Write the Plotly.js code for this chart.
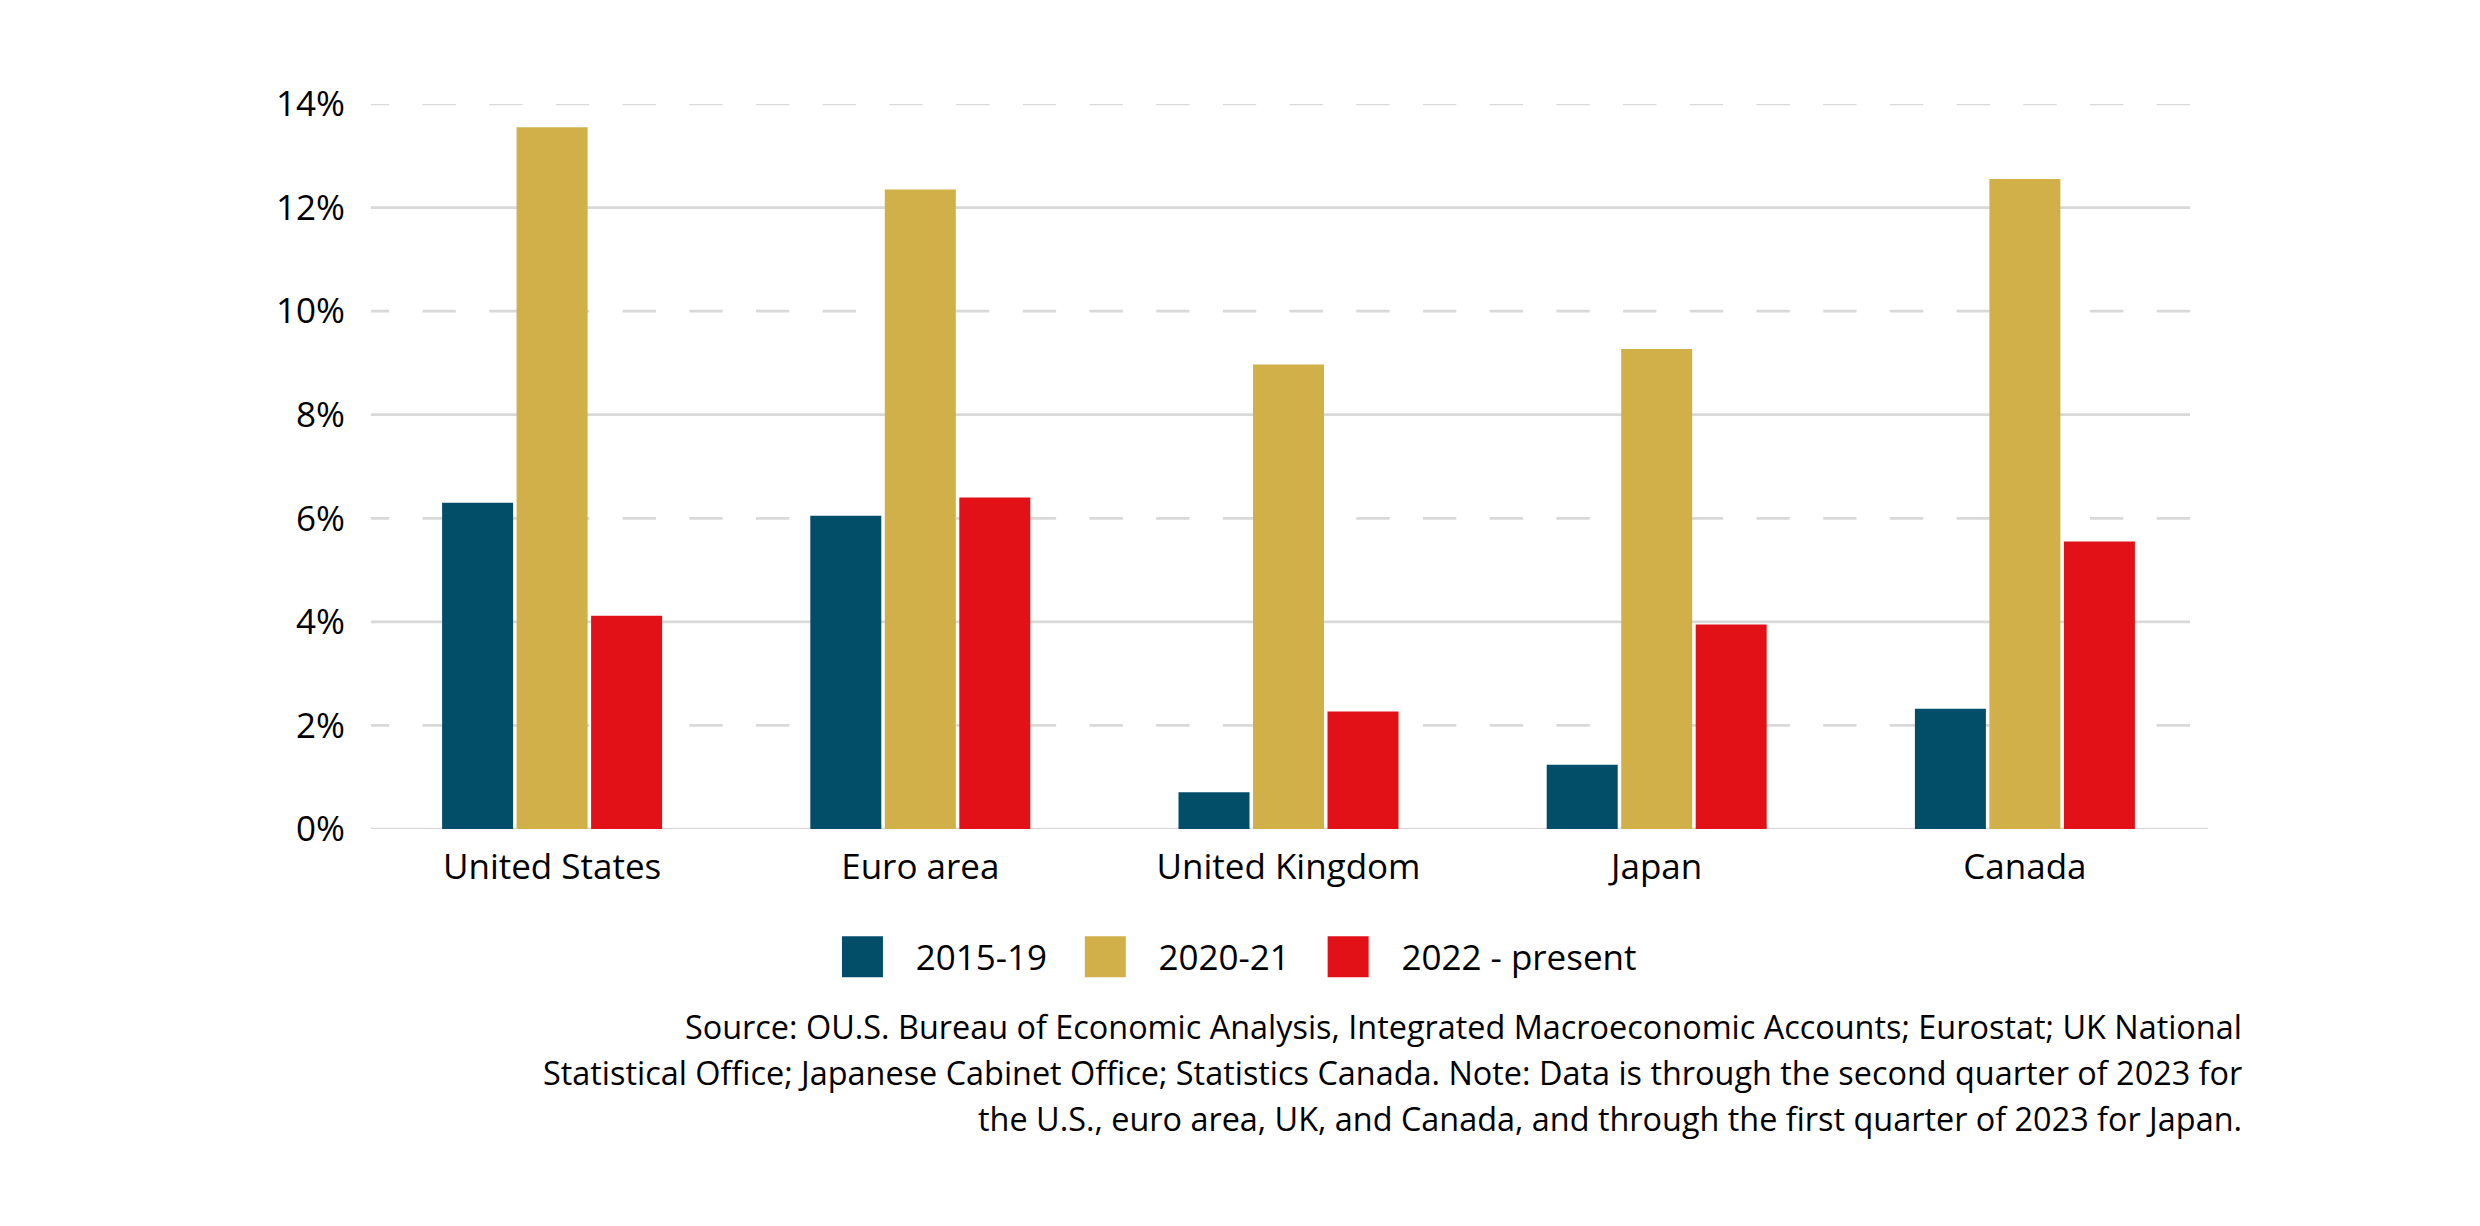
<!DOCTYPE html>
<html>
<head>
<meta charset="utf-8">
<script src="https://cdn.plot.ly/plotly-3.0.1.min.js"></script>
<style>
  html, body { margin: 0; padding: 0; background: #ffffff; }
  #chart { width: 2480px; height: 1226px; }
</style>
</head>
<body>
<div id="chart"></div>
<script>
// ---- data ----
var categories = ["United States", "Euro area", "United Kingdom", "Japan", "Canada"];
var seriesNames = ["2015-19", "2020-21", "2022 - present"];
var values2015_19 = [6.3, 6.05, 0.71, 1.24, 2.32];
var values2020_21 = [13.55, 12.35, 8.97, 9.27, 12.55];
var values2022_present = [4.12, 6.4, 2.27, 3.95, 5.55];
var yTickVals = [0, 2, 4, 6, 8, 10, 12, 14];
var yTickText = ["0%", "2%", "4%", "6%", "8%", "10%", "12%", "14%"];
var solidGridVals = [4, 8, 12];
var dashedGridVals = [2, 6, 10, 14];
var sourceLines = [
  "Source: OU.S. Bureau of Economic Analysis, Integrated Macroeconomic Accounts; Eurostat; UK National",
  "Statistical Office; Japanese Cabinet Office; Statistics Canada. Note: Data is through the second quarter of 2023 for",
  "the U.S., euro area, UK, and Canada, and through the first quarter of 2023 for Japan."
];

// ---- styles ----
var colors = ["#024E69", "#D1B04A", "#E21017"];
var FONT = "'Open Sans', 'Noto Sans', sans-serif";
var GRID = "#d9d9d9";

var seriesValues = [values2015_19, values2020_21, values2022_present];
var traces = seriesNames.map(function (name, i) {
  return {
    type: "bar",
    name: name,
    x: categories,
    y: seriesValues[i],
    marker: { color: colors[i] },
    hoverinfo: "x+y+name"
  };
});

var shapes = [];
// baseline (0%)
shapes.push({
  type: "line", layer: "below", xref: "paper", yref: "y",
  x0: 0.0016, x1: 0.9995, y0: 0, y1: 0,
  line: { color: GRID, width: 2.7 }
});
solidGridVals.forEach(function (v) {
  shapes.push({
    type: "line", layer: "below", xref: "paper", yref: "y",
    x0: 0.0016, x1: 0.9897, y0: v, y1: v,
    line: { color: GRID, width: 2.7 }
  });
});
dashedGridVals.forEach(function (v) {
  shapes.push({
    type: "line", layer: "below", xref: "paper", yref: "y",
    x0: 0.9897, x1: 0.0016, y0: v, y1: v,
    line: { color: GRID, width: 2.7, dash: "33.35px,33.35px" }
  });
});

var annotations = sourceLines.map(function (t, i) {
  return {
    xref: "paper", yref: "paper",
    x: (2244 - 368) / 1841, y: (829 - (1026 + i * 46)) / 725,
    xanchor: "right", yanchor: "middle", align: "right",
    showarrow: false, text: t,
    font: { family: FONT, size: 32.4, color: "#000000" }
  };
});

var layout = {
  width: 2480, height: 1226,
  margin: { l: 368, r: 271, t: 104, b: 397, pad: 0 },
  paper_bgcolor: "#ffffff", plot_bgcolor: "rgba(0,0,0,0)",
  font: { family: FONT, size: 35, color: "#000000" },
  barmode: "group",
  bargap: 0.393,
  bargroupgap: 0.047,
  showlegend: true,
  legend: {
    orientation: "h",
    x: (809.2 - 368) / 1841, xanchor: "left",
    y: (829 - 957) / 725, yanchor: "middle",
    itemwidth: 96.5,
    font: { family: FONT, size: 35, color: "#000000" },
    bgcolor: "rgba(0,0,0,0)",
    traceorder: "normal",
    itemclick: false, itemdoubleclick: false
  },
  xaxis: {
    type: "category",
    showgrid: false, zeroline: false, showline: false,
    ticks: "", ticklabelstandoff: 14,
    tickfont: { family: FONT, size: 35, color: "#000000" },
    fixedrange: true
  },
  yaxis: {
    range: [0, 14],
    tickmode: "array", tickvals: yTickVals, ticktext: yTickText,
    showgrid: false, zeroline: false, showline: false,
    ticks: "", ticklabelstandoff: 22,
    tickfont: { family: FONT, size: 35, color: "#000000" },
    fixedrange: true
  },
  shapes: shapes,
  annotations: annotations
};

function enlargeLegendSymbols() {
  var paths = document.querySelectorAll("#chart g.legendpoints path");
  paths.forEach(function (p) {
    p.setAttribute("d", "M20.5,20.5H-20.5V-20.5H20.5Z");
  });
}

Plotly.newPlot("chart", traces, layout, { displayModeBar: false, responsive: false })
  .then(function (gd) {
    enlargeLegendSymbols();
    setTimeout(enlargeLegendSymbols, 0);
    setTimeout(enlargeLegendSymbols, 50);
    gd.on("plotly_afterplot", enlargeLegendSymbols);
  });
</script>
</body>
</html>
